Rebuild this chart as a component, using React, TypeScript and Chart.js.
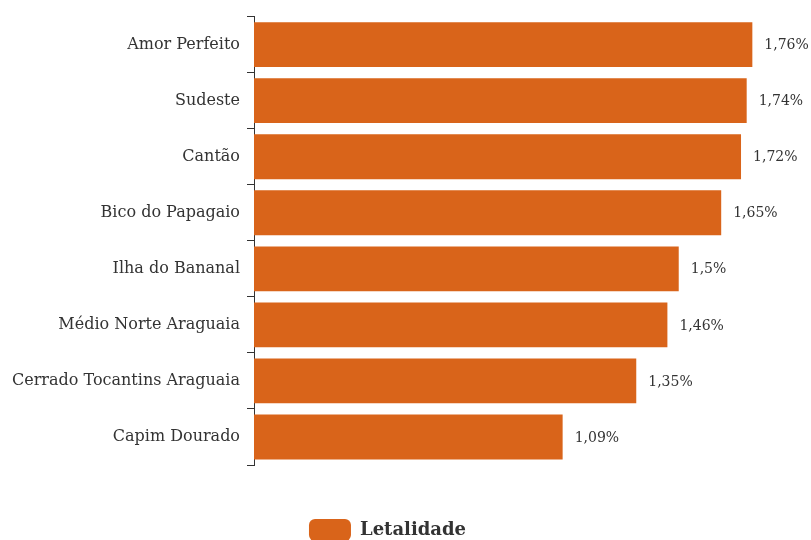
import React, { useEffect, useRef } from "react";
import { Chart, registerables } from "chart.js";

Chart.register(...registerables);

const categories = [
  "Amor Perfeito",
  "Sudeste",
  "Cantão",
  "Bico do Papagaio",
  "Ilha do Bananal",
  "Médio Norte Araguaia",
  "Cerrado Tocantins Araguaia",
  "Capim Dourado",
];
const letalidade = [1.76, 1.74, 1.72, 1.65, 1.5, 1.46, 1.35, 1.09];
const seriesName = "Letalidade";

const FONT = "'DejaVu Serif', serif";
const BAR = "#D9641A";
const TEXT = "#333333";

const fmt = (v: number) => String(v).replace(".", ",") + "%";

const valueLabels = {
  id: "valueLabels",
  afterDatasetsDraw(chart: any) {
    const ctx = chart.ctx;
    const meta = chart.getDatasetMeta(0);
    ctx.save();
    ctx.font = `14px ${FONT}`;
    ctx.fillStyle = TEXT;
    ctx.textAlign = "left";
    ctx.textBaseline = "middle";
    meta.data.forEach((el: any, i: number) => {
      const v = chart.data.datasets[0].data[i];
      ctx.fillText(fmt(v), el.x + 12, el.y + 1);
    });
    ctx.restore();
  },
};

export default function App() {
  const ref = useRef<HTMLCanvasElement | null>(null);
  useEffect(() => {
    if (!ref.current) return;
    const chart = new Chart(ref.current, {
      type: "bar",
      data: {
        labels: categories,
        datasets: [
          {
            label: seriesName,
            data: letalidade,
            backgroundColor: BAR,
            borderWidth: 0,
            categoryPercentage: 0.8,
            barPercentage: 1,
          },
        ],
      },
      options: {
        indexAxis: "y",
        responsive: false,
        animation: false,
        layout: { padding: { top: 15, right: 36, bottom: 0, left: 0 } },
        scales: {
          x: {
            display: false,
            min: 0,
            max: 1.84,
          },
          y: {
            afterFit(scale: any) {
              scale.width = 254;
            },
            border: { display: true, color: TEXT, width: 1 },
            grid: {
              display: true,
              drawOnChartArea: false,
              drawTicks: true,
              tickLength: 7,
              color: TEXT,
              offset: true,
            },
            ticks: {
              color: TEXT,
              padding: 7,
              font: { family: FONT, size: 16 },
            },
          },
        },
        plugins: {
          legend: {
            display: true,
            position: "bottom",
            labels: {
              boxWidth: 42,
              boxHeight: 22,
              useBorderRadius: true,
              borderRadius: 6,
              color: TEXT,
              padding: 54,
              font: { family: FONT, size: 18, weight: "bold" },
            },
          },
          tooltip: { enabled: false },
        },
      },
      plugins: [valueLabels],
    });
    return () => chart.destroy();
  }, []);
  return (
    <div
      style={{
        position: "fixed",
        left: 0,
        top: 0,
        width: 811,
        height: 540,
        overflow: "hidden",
        background: "#fff",
      }}
    >
      <canvas ref={ref} width={811} height={551} />
    </div>
  );
}
